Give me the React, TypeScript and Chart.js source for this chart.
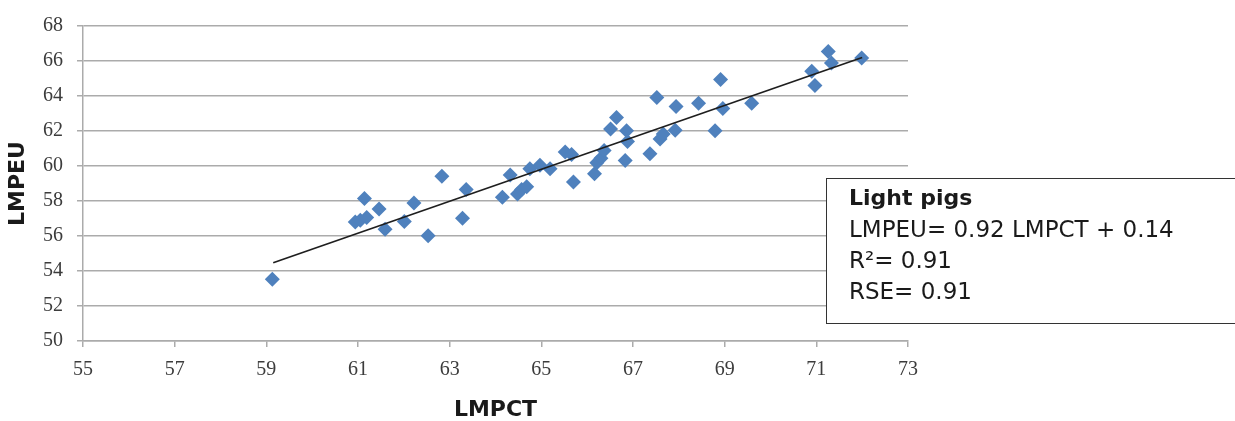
import React, { useEffect, useRef } from "react";
import { Chart, registerables } from "chart.js";

Chart.register(...registerables);

// LMPCT (x) values of the light pigs
const lmpct: number[] = [
  59.13, 60.94, 61.05, 61.19, 61.14, 61.46, 61.59, 62.01, 62.22, 62.53,
  62.83, 63.28, 63.36, 64.15, 64.32, 64.48, 64.57, 64.68, 64.75, 64.97,
  65.19, 65.52, 65.66, 65.7, 66.16, 66.21, 66.3, 66.37, 66.51, 66.64,
  66.83, 66.86, 66.88, 67.37, 67.52, 67.59, 67.66, 67.92, 67.94, 68.43,
  68.79, 68.91, 68.96, 69.59, 70.9, 70.97, 71.26, 71.33, 71.99,
];
// LMPEU (y) values
const lmpeu: number[] = [
  53.53, 56.8, 56.9, 57.06, 58.15, 57.55, 56.38, 56.83, 57.89, 56.02,
  59.42, 57.02, 58.66, 58.21, 59.48, 58.4, 58.66, 58.81, 59.85, 60.04,
  59.85, 60.8, 60.66, 59.09, 59.56, 60.19, 60.45, 60.89, 62.11, 62.77,
  60.31, 62.02, 61.4, 60.7, 63.91, 61.55, 61.83, 62.05, 63.4, 63.58,
  62.02, 64.94, 63.28, 63.58, 65.42, 64.6, 66.55, 65.89, 66.17,
];
// Trend line end points
const trendX: number[] = [59.15, 72.0];
const trendY: number[] = [54.47, 66.2];

// Axis settings / tick values
const xMin = 55, xMax = 73, xStep = 2;
const yMin = 50, yMax = 68, yStep = 2;
const xTitle = "LMPCT";
const yTitle = "LMPEU";

const annotationLines: string[] = [
  "Light pigs",
  "LMPEU= 0.92 LMPCT + 0.14",
  "R²= 0.91",
  "RSE= 0.91",
];

const annotationPlugin = {
  id: "annotationBox",
  afterDraw(chart: any) {
    const ctx = chart.ctx as CanvasRenderingContext2D;
    const x0 = 826.5, y0 = 178.5, w = 430, h = 145;
    ctx.save();
    ctx.fillStyle = "#ffffff";
    ctx.fillRect(x0, y0, w, h);
    ctx.strokeStyle = "#333333";
    ctx.lineWidth = 1;
    ctx.strokeRect(x0, y0, w, h);
    ctx.fillStyle = "#1a1a1a";
    ctx.textAlign = "left";
    ctx.textBaseline = "alphabetic";
    const baselines = [205, 237, 268, 299];
    annotationLines.forEach((t, i) => {
      ctx.font = i === 0 ? "bold 22px 'DejaVu Sans'" : "23px 'DejaVu Sans'";
      ctx.fillText(t, 849, baselines[i]);
    });
    ctx.restore();
  },
};

export default function App() {
  const ref = useRef<HTMLCanvasElement | null>(null);

  useEffect(() => {
    if (!ref.current) return;
    const points = lmpct.map((x, i) => ({ x, y: lmpeu[i] }));
    const trend = trendX.map((x, i) => ({ x, y: trendY[i] }));
    const tickFont = { family: "'Liberation Serif', serif", size: 20 };
    const titleFont = { family: "'DejaVu Sans', sans-serif", size: 22, weight: "bold" as const, lineHeight: 1 };
    const gridColor = "#ababab";

    const chart = new Chart(ref.current, {
      type: "scatter",
      data: {
        datasets: [
          {
            type: "line",
            label: "Trend",
            data: trend,
            borderColor: "#1e1e1e",
            borderWidth: 1.7,
            pointRadius: 0,
            fill: false,
          } as any,
          {
            label: "Light pigs",
            data: points,
            pointStyle: "rectRot",
            pointRadius: 7.5,
            backgroundColor: "#4f81bd",
            borderColor: "#4f81bd",
            borderWidth: 0,
          },
        ],
      },
      options: {
        responsive: false,
        animation: false,
        layout: { padding: { top: 23, right: 327, bottom: 0, left: 0 } },
        plugins: {
          legend: { display: false },
          tooltip: { enabled: false },
        },
        scales: {
          x: {
            type: "linear",
            min: xMin,
            max: xMax,
            afterFit: (s: any) => { s.height = 80; },
            ticks: { stepSize: xStep, font: tickFont, color: "#3c3c3c", padding: 11, maxRotation: 0 },
            grid: { drawOnChartArea: false, drawTicks: true, tickLength: 6, color: gridColor, lineWidth: 1.5 },
            border: { display: true, color: gridColor, width: 1.5 },
            title: { display: true, text: xTitle, font: titleFont, color: "#1a1a1a", padding: { top: 0, bottom: 0 } },
          },
          y: {
            type: "linear",
            min: yMin,
            max: yMax,
            afterFit: (s: any) => { s.width = 83; },
            ticks: { stepSize: yStep, font: tickFont, color: "#3c3c3c", padding: 14 },
            grid: { drawTicks: true, tickLength: 6, color: gridColor, lineWidth: 1.5 },
            border: { display: true, color: gridColor, width: 1.5 },
            title: { display: true, text: yTitle, font: titleFont, color: "#1a1a1a", padding: { top: 7, bottom: 0 } },
          },
        },
      },
      plugins: [annotationPlugin],
    });
    return () => chart.destroy();
  }, []);

  return (
    <div style={{ position: "fixed", left: 0, top: 0, width: 1235, height: 421, background: "#ffffff" }}>
      <canvas ref={ref} width={1235} height={421} style={{ display: "block" }} />
    </div>
  );
}
